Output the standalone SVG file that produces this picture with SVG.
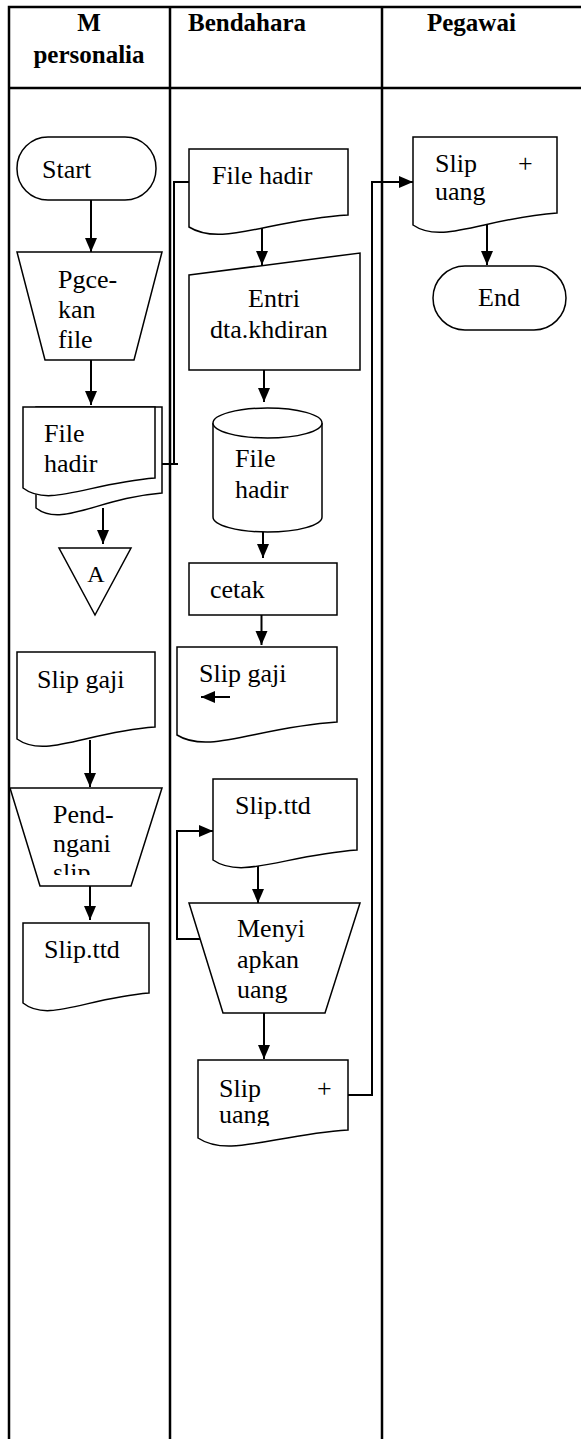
<svg xmlns="http://www.w3.org/2000/svg" width="581" height="1439" viewBox="0 0 581 1439">
<style>
.tbl{stroke:#000;stroke-width:2.5;fill:none}
.shp{fill:#fff;stroke:#000;stroke-width:1.5}
.ln{fill:none;stroke:#000;stroke-width:2}
.ar{fill:none;stroke:#000;stroke-width:2;marker-end:url(#ah)}
.t{font-family:"Liberation Serif","Times New Roman",serif;font-size:26px;fill:#000}
.h{font-family:"Liberation Serif","Times New Roman",serif;font-size:25px;font-weight:bold;fill:#000}
</style>
<defs>
<marker id="ah" markerUnits="userSpaceOnUse" markerWidth="14" markerHeight="14" viewBox="0 0 14 14" refX="14" refY="7" orient="auto">
<path d="M0,1 L14,7 L0,13 Z" fill="#000"/>
</marker>
<clipPath id="c1"><rect x="0" y="0" width="170" height="875"/></clipPath>
<clipPath id="c2"><rect x="170" y="0" width="212" height="1126"/></clipPath>
<clipPath id="c3"><rect x="382" y="0" width="199" height="205"/></clipPath>
</defs>
<rect width="581" height="1439" fill="#fff"/>
<g id="table">
<path class="tbl" d="M9,1439 V7 H581 M9,88 H581 M170,7 V1439 M382,7 V1439"/>
<text class="h" x="89" y="31" text-anchor="middle">M</text>
<text class="h" x="89" y="63" text-anchor="middle">personalia</text>
<text class="h" x="188" y="31">Bendahara</text>
<text class="h" x="427" y="31">Pegawai</text>
</g>
<g id="connectors">
<path class="ar" d="M91,200 V252"/>
<path class="ar" d="M91,360 V405"/>
<path class="ar" d="M103,508 V544"/>
<path class="ln" d="M142,464 H178"/>
<path class="ar" d="M174,464 V182 H212"/>
<path class="ar" d="M262,226 V265"/>
<path class="ar" d="M264,360 V402"/>
<path class="ar" d="M263,525 V558"/>
<path class="ar" d="M261.5,610 V645"/>
<path class="ar" d="M90,740 V787"/>
<path class="ar" d="M90,886 V920"/>
<path class="ar" d="M200,939 H177 V831 H213"/>
<path class="ar" d="M258,863 V903"/>
<path class="ar" d="M264,1007 V1059"/>
<path class="ar" d="M348,1095 H372 V182 H413"/>
<path class="ar" d="M487,225 V265"/>
</g>
<g id="n-start"><rect class="shp" x="17" y="137" width="139" height="63" rx="31"/><text class="t" x="42" y="178">Start</text></g>
<g id="n-pgcekan"><path class="shp" d="M17,252 H162 L134,360 H45 Z"/><text class="t" x="58" y="288">Pgce-</text><text class="t" x="58" y="318">kan</text><text class="t" x="58" y="348">file</text></g>
<g id="n-filehadir-m">
<path class="shp" d="M36,407 H162 V493 C99,498 61,528 36,508 Z"/>
<path class="shp" d="M23,407 H155 V478 C89,483 49,508 23,488 Z"/>
<text class="t" x="44" y="442">File</text><text class="t" x="44" y="472">hadir</text>
</g>
<g id="n-a"><path class="shp" d="M59,548 H131 L95,615 Z"/><text class="t" x="96" y="582" text-anchor="middle" style="font-size:24px">A</text></g>
<g id="n-slipgaji-m"><path class="shp" d="M17,652 H155 V727 C86,732 45,759 17,739 Z"/><text class="t" x="37" y="688">Slip gaji</text></g>
<g id="n-pendngani"><path class="shp" d="M10,788 H162 L131,886 H40 Z"/><g clip-path="url(#c1)"><text class="t" x="53" y="823">Pend-</text><text class="t" x="53" y="852">ngani</text><text class="t" x="53" y="881">slip</text></g></g>
<g id="n-sliptd-m"><path class="shp" d="M23,923 H149 V993 C86,998 48,1023 23,1003 Z"/><text class="t" x="44" y="958">Slip.ttd</text></g>
<g id="n-filehadir-b"><path class="shp" d="M189,149 H348 V215 C268,220 221,247 189,227 Z"/><text class="t" x="212" y="184">File hadir</text></g>
<g id="n-entri"><path class="shp" d="M189,275 L360,253 V370 H189 Z"/><text class="t" x="248" y="307">Entri</text><text class="t" x="210" y="338">dta.khdiran</text></g>
<g id="n-db"><path class="shp" d="M213,423 A54.5,15 0 0,1 322,423 V517 A54.5,15 0 0,1 213,517 Z"/><path class="shp" d="M213,423 A54.5,15 0 0,0 322,423" fill="none"/><text class="t" x="235" y="467">File</text><text class="t" x="235" y="498">hadir</text></g>
<g id="n-cetak"><rect class="shp" x="189" y="563" width="148" height="52"/><text class="t" x="210" y="598">cetak</text></g>
<g id="n-slipgaji-b"><path class="shp" d="M177,647 H337 V722 C257,727 209,755 177,735 Z"/><text class="t" x="199" y="682">Slip gaji</text><path class="ar" d="M230,697 H201"/></g>
<g id="n-sliptd-b"><path class="shp" d="M213,779 H357 V850 C285,855 242,880 213,860 Z"/><text class="t" x="235" y="814">Slip.ttd</text></g>
<g id="n-menyi"><path class="shp" d="M189,903 H360 L325,1013 H223 Z"/><text class="t" x="237" y="937">Menyi</text><text class="t" x="237" y="968">apkan</text><text class="t" x="237" y="998">uang</text></g>
<g id="n-slipuang-b"><path class="shp" d="M198,1060 H348 V1130 C273,1135 228,1158 198,1138 Z"/><g clip-path="url(#c2)"><text class="t" x="219" y="1097">Slip</text><text class="t" x="317" y="1097">+</text><text class="t" x="219" y="1123">uang</text></g></g>
<g id="n-slipuang-p"><path class="shp" d="M413,137 H557 V213 C485,218 442,245 413,225 Z"/><g clip-path="url(#c3)"><text class="t" x="435" y="172">Slip</text><text class="t" x="518" y="172">+</text><text class="t" x="435" y="200">uang</text></g></g>
<g id="n-end"><rect class="shp" x="433" y="266" width="133" height="64" rx="32"/><text class="t" x="478" y="306">End</text></g>
</svg>
